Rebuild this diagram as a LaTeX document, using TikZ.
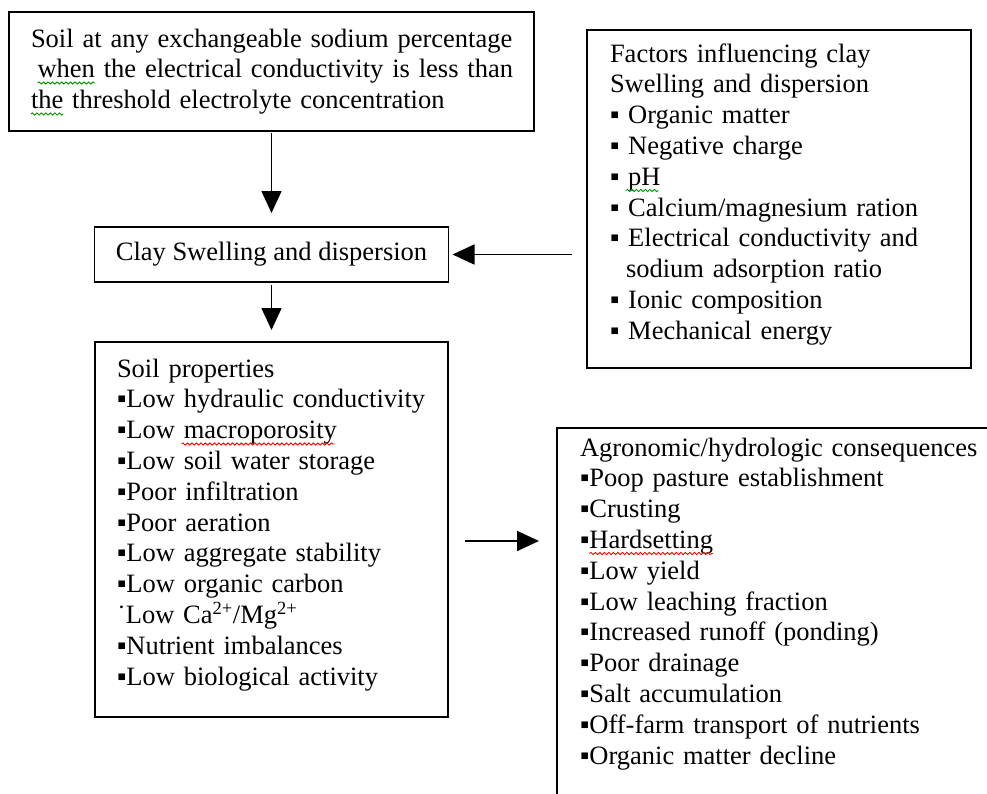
\documentclass[tikz,border=0pt]{standalone}
\usepackage{fontspec}
\setmainfont{Liberation Serif}
\usetikzlibrary{arrows.meta,decorations.pathmorphing}
\definecolor{sqgreen}{RGB}{0,150,0}
\definecolor{sqred}{RGB}{255,0,0}
\begin{document}
\begin{tikzpicture}[x=1pt,y=-1pt,
  box/.style={draw=black, line width=1.7pt, inner sep=0pt, outer sep=0pt},
  txt/.style={anchor=north west, inner sep=0pt, outer sep=0pt, align=left, text width=480pt, execute at begin node=\strut},
  arr/.style={line width=1.6pt, -{Triangle[length=22pt,width=20pt]}},
  sq/.style={decorate, decoration={snake, amplitude=1.1pt, segment length=4.5pt}, line width=0.9pt}]
\fontsize{26.5}{30.8}\selectfont
\useasboundingbox (0,0) rectangle (987,793);
\clip (0,0) rectangle (987,793);
\fill[white] (0,0) rectangle (987,793);

% boxes
\node[box, anchor=north west, minimum width=525pt, minimum height=119pt] (b1) at (9,12) {};
\node[txt, text width=520pt] (t1) at (31,25.44) {Soil at any exchangeable sodium percentage\\
\hspace*{6.6pt}when the electrical conductivity is less than\\
the threshold electrolyte concentration};

\node[box, anchor=north west, minimum width=384pt, minimum height=338pt] (b2) at (587,30) {};
\node[txt] (t2) at (610,40.44) {Factors influencing clay\\
Swelling and dispersion\\
▪ Organic matter\\
▪ Negative charge\\
▪ pH\\
▪ Calcium/magnesium ration\\
▪ Electrical conductivity and\\
\phantom{▪}\hspace*{6.6pt}sodium adsorption ratio\\
▪ Ionic composition\\
▪ Mechanical energy};

\node[box, minimum width=354pt, minimum height=55pt] (b3) at (271.5,254.5) {Clay Swelling and dispersion};

\node[box, anchor=north west, minimum width=353pt, minimum height=375pt] (b4) at (95,342) {};
\node[txt] (t4) at (117,355.44) {Soil properties\\
▪Low hydraulic conductivity\\
▪Low macroporosity\\
▪Low soil water storage\\
▪Poor infiltration\\
▪Poor aeration\\
▪Low aggregate stability\\
▪Low organic carbon\\
˙Low Ca\textsuperscript{2+}/Mg\textsuperscript{2+}\\
▪Nutrient imbalances\\
▪Low biological activity};

\node[box, anchor=north west, minimum width=500pt, minimum height=450pt] (b5) at (557,428) {};
\node[txt] (t5) at (580,434.44) {Agronomic/hydrologic consequences\\
▪Poop pasture establishment\\
▪Crusting\\
▪Hardsetting\\
▪Low yield\\
▪Low leaching fraction\\
▪Increased runoff (ponding)\\
▪Poor drainage\\
▪Salt accumulation\\
▪Off-farm transport of nutrients\\
▪Organic matter decline};

% connectors
\draw[arr, shorten <=2pt, shorten >=14pt] (b1.south) -- (b3.north);
\draw[arr, shorten <=15pt, shorten >=4pt] (b3.east -| b2.west) -- (b3.east);
\draw[arr, shorten <=3pt, shorten >=12pt] (b3.south) -- (b4.north);
\coordinate (h4) at (0,541);
\draw[arr, shorten <=17pt, shorten >=18pt] (b4.east |- h4) -- (b5.west |- h4);

% spell-check squiggles
\pgfmathsetmacro\wwhen{width("when")}
\pgfmathsetmacro\wthe{width("the")}
\pgfmathsetmacro\wpH{width("pH")}
\pgfmathsetmacro\wbul{width("▪")}
\pgfmathsetmacro\wlow{width("▪Low")}
\pgfmathsetmacro\wmacro{width("macroporosity")}
\pgfmathsetmacro\whard{width("Hardsetting")}
\draw[sq, sqgreen] (37.6,83) -- ++(\wwhen,0);
\draw[sq, sqgreen] (31,114) -- ++(\wthe,0);
\draw[sq, sqgreen] ({610+\wbul+6.6},190.5) -- ++(\wpH,0);
\draw[sq, sqred] ({117+\wlow+6.6},444) -- ++(\wmacro,0);
\draw[sq, sqred] ({580+\wbul},553.5) -- ++(\whard,0);
\end{tikzpicture}
\end{document}
